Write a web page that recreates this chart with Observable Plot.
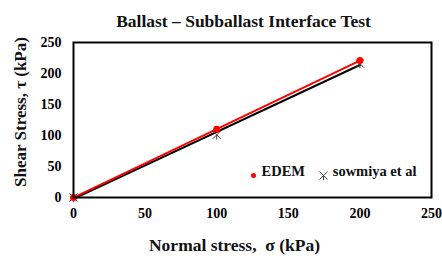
<!DOCTYPE html>
<html>
<head>
<meta charset="utf-8">
<script src="https://cdn.jsdelivr.net/npm/d3@7"></script>
<script src="https://cdn.jsdelivr.net/npm/@observablehq/plot@0.6"></script>
<style>
  html, body { margin: 0; padding: 0; background: #fff; }
  #chart { position: relative; width: 442px; height: 259px; }
  svg { font-family: "Liberation Serif", "Times New Roman", serif; font-weight: bold; }
</style>
</head>
<body>
<div id="chart"></div>
<script>
const normalStress = [0, 100, 200];
const edemShear = [0, 110, 221];
const sowmiyaShear = [0, 101, 216];
const xTicks = [0, 50, 100, 150, 200, 250];
const yTicks = [0, 50, 100, 150, 200, 250];

const edem = normalStress.map((x, i) => ({x, y: edemShear[i]}));
const sowmiya = normalStress.map((x, i) => ({x, y: sowmiyaShear[i]}));

// X with a vertical stroke (Excel-style star marker)
const starX = {
  draw(context, size) {
    const h = Math.sqrt(size / Math.PI);
    context.moveTo(-h, -h); context.lineTo(h, h);
    context.moveTo(h, -h); context.lineTo(-h, h);
    context.moveTo(0, 0); context.lineTo(0, h * 1.2);
  }
};

const plot = Plot.plot({
  width: 442,
  height: 259,
  marginLeft: 73,
  marginRight: 11,
  marginTop: 42,
  marginBottom: 62,
  style: {fontFamily: "Liberation Serif, serif", fontSize: "14px", fontWeight: "bold", background: "#fff", color: "#000"},
  x: {domain: [0, 250]},
  y: {domain: [0, 250]},
  marks: [
    Plot.axisX({ticks: xTicks, tickSize: 0, tickPadding: 11, fontSize: 14, label: null, fill: "#000"}),
    Plot.axisY({ticks: yTicks, tickSize: 0, tickPadding: 12, fontSize: 14, label: null, fill: "#000"}),
    Plot.linearRegressionY(sowmiya, {x: "x", y: "y", stroke: "#000", strokeWidth: 2, ci: 0}),
    Plot.linearRegressionY(edem, {x: "x", y: "y", stroke: "#ff0000", strokeWidth: 2, ci: 0}),
    Plot.dot(sowmiya, {x: "x", y: "y", symbol: starX, r: 4, stroke: "#444", strokeWidth: 1}),
    Plot.dot(edem, {x: "x", y: "y", r: 3.5, fill: "#ff0000"}),
    Plot.frame({stroke: "#000", strokeWidth: 2}),
    Plot.text(["Ballast – Subballast Interface Test"], {frameAnchor: "top", dx: -9, dy: -28, fontSize: 17.5, fontWeight: "bold", fill: "#111"}),
    Plot.text(["Normal stress,  σ (kPa)"], {frameAnchor: "bottom", dx: -18, dy: 53, fontSize: 17.5, fontWeight: "bold", fill: "#111"}),
    Plot.text(["Shear Stress, τ (kPa)"], {frameAnchor: "left", textAnchor: "middle", dx: -53, dy: -8, rotate: -90, fontSize: 17, fontWeight: "bold", fill: "#111"}),
    Plot.dot([0], {frameAnchor: "bottom-right", dx: -178, dy: -22, r: 2.5, fill: "#ff0000"}),
    Plot.text(["EDEM"], {frameAnchor: "bottom-right", dx: -170, dy: -22, textAnchor: "start", fontSize: 14.5, fontWeight: "bold", fill: "#111"}),
    Plot.dot([0], {frameAnchor: "bottom-right", dx: -108, dy: -22, symbol: starX, r: 4, stroke: "#444", strokeWidth: 1}),
    Plot.text(["sowmiya et al"], {frameAnchor: "bottom-right", dx: -15, dy: -22, textAnchor: "end", fontSize: 14.5, fontWeight: "bold", fill: "#111"})
  ]
});
document.getElementById("chart").appendChild(plot);
</script>
</body>
</html>
